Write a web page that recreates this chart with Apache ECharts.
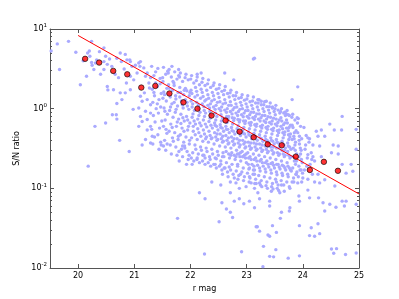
<!DOCTYPE html>
<html><head><meta charset="utf-8">
<script src="https://cdn.jsdelivr.net/npm/echarts@6/dist/echarts.min.js"></script>
<style>html,body{margin:0;padding:0;background:#fff}#c{width:399px;height:299px}</style>
</head><body><div id="c"></div>
<script>
// ---- data ----
const xTicks = [20, 21, 22, 23, 24, 25];
const yTicks = [0.01, 0.1, 1, 10];
const yTickExp = ['-2', '-1', '0', '1'];
const yMinorTicks = [0.02,0.03,0.04,0.05,0.06,0.07,0.08,0.09,0.2,0.3,0.4,0.5,0.6,0.7,0.8,0.9,2,3,4,5,6,7,8,9];
const binMag = [20.125,20.375,20.625,20.875,21.125,21.375,21.625,21.875,22.125,22.375,22.625,22.875,23.125,23.375,23.625,23.875,24.125,24.375,24.625];
const binSN = [4.22,3.79,2.98,2.70,1.84,1.93,1.55,1.20,1.00,0.82,0.71,0.515,0.437,0.357,0.347,0.250,0.170,0.215,0.166];
const fitMag = [20, 25];
const fitSN = [8.3, 0.085];
const starsLeft = [[19.52,5.3],[19.63,6.5],[19.83,7.0],[19.67,3.1],[19.96,5.1],[20.04,2.0],[20.15,2.55],[20.09,4.0],[20.24,7.0],[20.2,5.3],[20.33,4.1],[20.25,3.5],[20.4,2.7],[20.3,0.6],[20.49,0.66],[20.52,1.9],[20.53,1.72],[20.61,0.84],[20.68,0.84],[20.69,0.74],[20.74,0.4],[20.46,5.8],[20.18,0.19],[20.91,0.29],
[20.17,5.0],[20.21,4.55],[20.24,3.8],[20.31,3.75],[20.28,3.1],[20.38,5.2],[20.49,4.55],[20.46,3.9],[20.52,3.6],[20.46,3.1],[20.56,4.2],[20.6,3.4],[20.69,4.3],[20.75,5.0],[20.77,3.9],[20.66,2.7],[20.72,2.45],[20.84,4.8],[20.87,4.1],[20.93,3.9],[20.96,3.4],[20.82,3.15],[20.93,2.55],[20.99,2.3],[20.86,2.1],[21.05,2.8],[21.08,3.75],[21.11,3.9],[21.17,3.25],[21.2,2.55],[21.23,2.8],[21.29,2.45],[21.26,2.1],[21.27,1.82],[21.18,1.58],[21.11,1.43],[21.14,1.24],[21.08,1.02],[21.23,1.3],[21.29,1.12],[21.2,0.93],[21.29,0.88],[21.23,0.73],[21.14,0.69],[21.29,0.6],[21.23,0.54],[21.32,0.45],[20.69,1.16],[20.78,1.3],[20.84,1.58],[20.93,1.73],[20.98,0.98],[20.63,1.73],[20.75,1.58],[21.08,0.6],[21.11,0.8],[21.29,0.37],[21.2,0.41],[21.14,0.35],[20.92,4.1],[21.02,3.5],[21.1,3.4]];
const starsBand = [
[21.31,3.4],[21.35,2.6],[21.38,2.1],[21.32,1.75],[21.36,1.45],[21.33,1.2],[21.39,1.0],[21.34,0.82],[21.37,0.68],[21.31,0.55],[21.36,0.44],[21.33,0.36],[21.38,2.9],[21.35,1.6],
[21.42,3.2],[21.46,2.4],[21.41,1.9],[21.48,1.55],[21.44,1.3],[21.47,1.05],[21.43,0.88],[21.49,0.7],[21.45,0.57],[21.42,0.47],[21.47,0.38],[21.44,0.31],[21.46,2.05],[21.41,1.15],
[21.52,3.3],[21.56,2.7],[21.51,2.2],[21.58,1.8],[21.54,1.5],[21.57,1.25],[21.53,1.02],[21.59,0.85],[21.55,0.72],[21.52,0.6],[21.58,0.49],[21.54,0.4],[21.56,0.3],[21.51,1.35],
[21.62,3.1],[21.66,2.5],[21.61,2.0],[21.68,1.7],[21.64,1.4],[21.67,1.15],[21.63,0.95],[21.69,0.78],[21.65,0.64],[21.62,0.52],[21.68,0.43],[21.64,0.35],[21.66,0.27],[21.61,1.55],[21.69,2.2],
[21.72,2.9],[21.76,2.35],[21.71,1.95],[21.78,1.6],[21.74,1.32],[21.77,1.08],[21.73,0.9],[21.79,0.74],[21.75,0.6],[21.72,0.5],[21.78,0.41],[21.74,0.33],[21.76,0.26],[21.71,1.2],[21.79,2.6],
[21.82,2.8],[21.86,2.2],[21.81,1.85],[21.88,1.5],[21.84,1.25],[21.87,1.02],[21.83,0.85],[21.89,0.7],[21.85,0.57],[21.82,0.47],[21.88,0.38],[21.84,0.31],[21.86,0.25],[21.81,1.4],[21.89,1.7],[21.83,0.65],
[21.92,2.7],[21.96,2.3],[21.91,1.8],[21.98,1.45],[21.94,1.2],[21.97,0.98],[21.93,0.8],[21.99,0.66],[21.95,0.54],[21.92,0.44],[21.98,0.36],[21.94,0.29],[21.96,0.23],[21.91,1.3],[21.99,1.6],[21.95,0.72],
[22.02,2.6],[22.06,2.1],[22.01,1.7],[22.08,1.4],[22.04,1.15],[22.07,0.95],[22.03,0.78],[22.09,0.64],[22.05,0.52],[22.02,0.43],[22.08,0.35],[22.04,0.28],[22.06,0.22],[22.01,1.25],[22.09,1.85],[22.05,0.6],[22.03,1.05],
[22.12,2.5],[22.16,2.0],[22.11,1.65],[22.18,1.35],[22.14,1.1],[22.17,0.9],[22.13,0.74],[22.19,0.61],[22.15,0.5],[22.12,0.41],[22.18,0.33],[22.14,0.27],[22.16,0.21],[22.11,1.2],[22.19,1.75],[22.15,0.82],[22.13,0.56],
[22.22,2.4],[22.26,1.95],[22.21,1.6],[22.28,1.3],[22.24,1.06],[22.27,0.88],[22.23,0.72],[22.29,0.59],[22.25,0.48],[22.22,0.39],[22.28,0.32],[22.24,0.26],[22.26,0.2],[22.21,1.15],[22.29,1.7],[22.25,0.8],[22.23,0.54],[22.27,0.42],
[22.32,2.3],[22.36,1.85],[22.31,1.5],[22.38,1.25],[22.34,1.02],[22.37,0.84],[22.33,0.69],[22.39,0.57],[22.35,0.46],[22.32,0.38],[22.38,0.31],[22.34,0.25],[22.36,0.19],[22.31,1.1],[22.39,1.6],[22.35,0.76],[22.33,0.52],[22.37,0.42],
[22.42,2.1],[22.46,1.75],[22.41,1.45],[22.48,1.2],[22.44,0.98],[22.47,0.8],[22.43,0.66],[22.49,0.54],[22.45,0.44],[22.42,0.36],[22.48,0.29],[22.44,0.24],[22.46,0.18],[22.41,1.05],[22.49,1.55],[22.45,0.72],[22.43,0.5],[22.47,0.4],[22.44,0.62],
[22.52,2.0],[22.56,1.65],[22.51,1.38],[22.58,1.15],[22.54,0.94],[22.57,0.77],[22.53,0.63],[22.59,0.52],[22.55,0.42],[22.52,0.34],[22.58,0.28],[22.54,0.22],[22.56,0.17],[22.51,1.0],[22.59,1.5],[22.55,0.7],[22.53,0.48],[22.57,0.38],[22.54,0.58],
[22.62,1.9],[22.66,1.55],[22.61,1.3],[22.68,1.1],[22.64,0.9],[22.67,0.74],[22.63,0.6],[22.69,0.5],[22.65,0.4],[22.62,0.33],[22.68,0.27],[22.64,0.21],[22.66,0.16],[22.61,0.96],[22.69,1.4],[22.65,0.67],[22.63,0.46],[22.67,0.36],[22.64,0.55],[22.68,0.8],
[22.72,1.7],[22.76,1.45],[22.71,1.22],[22.78,1.03],[22.74,0.86],[22.77,0.71],[22.73,0.58],[22.79,0.48],[22.75,0.39],[22.72,0.32],[22.78,0.26],[22.74,0.2],[22.76,0.15],[22.71,0.92],[22.79,1.3],[22.75,0.64],[22.73,0.44],[22.77,0.35],[22.74,0.53],[22.78,0.76],
[22.82,1.6],[22.86,1.35],[22.81,1.15],[22.88,0.98],[22.84,0.82],[22.87,0.68],[22.83,0.56],[22.89,0.46],[22.85,0.37],[22.82,0.3],[22.88,0.25],[22.84,0.19],[22.86,0.145],[22.81,0.88],[22.89,1.2],[22.85,0.61],[22.83,0.42],[22.87,0.33],[22.84,0.51],[22.88,0.72],[22.86,0.27],
[22.92,1.5],[22.96,1.28],[22.91,1.1],[22.98,0.94],[22.94,0.79],[22.97,0.65],[22.93,0.53],[22.99,0.44],[22.95,0.36],[22.92,0.29],[22.98,0.24],[22.94,0.18],[22.96,0.14],[22.91,0.84],[22.99,1.15],[22.95,0.58],[22.93,0.4],[22.97,0.32],[22.94,0.49],[22.98,0.7],[22.96,0.26],
[23.02,1.45],[23.06,1.22],[23.01,1.05],[23.08,0.9],[23.04,0.76],[23.07,0.62],[23.03,0.51],[23.09,0.42],[23.05,0.34],[23.02,0.28],[23.08,0.23],[23.04,0.175],[23.06,0.135],[23.01,0.8],[23.09,1.1],[23.05,0.56],[23.03,0.38],[23.07,0.31],[23.04,0.47],[23.08,0.67],[23.06,0.25],[23.03,0.2],
[23.12,1.4],[23.16,1.18],[23.11,1.0],[23.18,0.86],[23.14,0.73],[23.17,0.6],[23.13,0.49],[23.19,0.4],[23.15,0.33],[23.12,0.27],[23.18,0.22],[23.14,0.17],[23.16,0.13],[23.11,0.77],[23.19,1.05],[23.15,0.54],[23.13,0.37],[23.17,0.3],[23.14,0.45],[23.18,0.64],[23.16,0.24],[23.13,0.19],[23.17,0.115],
[23.22,1.3],[23.26,1.12],[23.21,0.96],[23.28,0.82],[23.24,0.7],[23.27,0.57],[23.23,0.47],[23.29,0.39],[23.25,0.32],[23.22,0.26],[23.28,0.21],[23.24,0.165],[23.26,0.125],[23.21,0.74],[23.29,1.0],[23.25,0.52],[23.23,0.36],[23.27,0.29],[23.24,0.43],[23.28,0.62],[23.26,0.23],[23.23,0.18],[23.27,0.105],
[23.32,1.22],[23.36,1.06],[23.31,0.92],[23.38,0.79],[23.34,0.67],[23.37,0.55],[23.33,0.45],[23.39,0.37],[23.35,0.31],[23.32,0.25],[23.38,0.2],[23.34,0.16],[23.36,0.12],[23.31,0.7],[23.39,0.96],[23.35,0.5],[23.33,0.34],[23.37,0.28],[23.34,0.41],[23.38,0.6],[23.36,0.22],[23.33,0.175],[23.37,0.1],
[23.42,1.18],[23.46,1.02],[23.41,0.88],[23.48,0.76],[23.44,0.64],[23.47,0.53],[23.43,0.43],[23.49,0.36],[23.45,0.3],[23.42,0.24],[23.48,0.195],[23.44,0.155],[23.46,0.115],[23.41,0.67],[23.49,0.92],[23.45,0.48],[23.43,0.33],[23.47,0.27],[23.44,0.4],[23.48,0.57],[23.46,0.21],[23.43,0.17],[23.47,0.098],
[23.52,1.1],[23.56,0.96],[23.51,0.84],[23.58,0.72],[23.54,0.61],[23.57,0.5],[23.53,0.41],[23.59,0.34],[23.55,0.28],[23.52,0.23],[23.58,0.185],[23.54,0.148],[23.56,0.11],[23.51,0.64],[23.59,0.88],[23.55,0.46],[23.53,0.32],[23.57,0.26],[23.54,0.38],[23.58,0.54],[23.56,0.2],[23.53,0.16],[23.57,0.094],
[23.62,1.0],[23.66,0.88],[23.61,0.77],[23.68,0.66],[23.64,0.56],[23.67,0.47],[23.63,0.39],[23.69,0.32],[23.65,0.27],[23.62,0.22],[23.68,0.18],[23.64,0.145],[23.66,0.11],[23.61,0.6],[23.69,0.82],[23.65,0.43],[23.63,0.3],[23.67,0.25],[23.64,0.36],[23.68,0.51],[23.66,0.19],[23.63,0.155],[23.67,0.092],
[23.72,0.95],[23.76,0.82],[23.71,0.72],[23.78,0.62],[23.74,0.53],[23.77,0.44],[23.73,0.37],[23.79,0.31],[23.75,0.26],[23.72,0.21],[23.78,0.17],[23.74,0.14],[23.76,0.105],[23.71,0.57],[23.75,0.41],[23.73,0.29],[23.77,0.24],[23.74,0.34],[23.78,0.48],[23.76,0.18],[23.73,0.15],
[23.82,0.85],[23.86,0.72],[23.81,0.62],[23.88,0.53],[23.84,0.45],[23.87,0.38],[23.83,0.32],[23.89,0.27],[23.85,0.22],[23.82,0.18],[23.88,0.15],[23.84,0.12],[23.86,0.35],[23.83,0.25],[23.87,0.2],[23.85,0.5],[23.81,0.41],
[23.92,0.75],[23.96,0.6],[23.91,0.5],[23.98,0.42],[23.94,0.36],[23.97,0.3],[23.93,0.25],[23.99,0.21],[23.95,0.17],[23.92,0.14],[23.98,0.12],[23.94,0.45],[23.96,0.27],[23.93,0.19],
[24.02,0.58],[24.06,0.46],[24.11,0.38],[24.04,0.31],[24.15,0.28],[24.08,0.24],[24.13,0.2],[24.03,0.17],[24.17,0.15],[24.09,0.13],[24.05,0.35],[24.12,0.42],[24.16,0.23],[24.07,0.19]];
const starsFill = [
[21.505,2.45],[21.525,1.62],[21.545,0.93],[21.565,0.55],[21.585,0.36],[21.595,2.95],
[21.605,2.8],[21.625,1.8],[21.645,1.05],[21.675,0.58],[21.695,0.39],
[21.705,2.1],[21.735,1.45],[21.745,0.98],[21.765,0.68],[21.785,0.45],[21.795,0.29],
[21.805,2.5],[21.825,1.6],[21.855,1.12],[21.865,0.77],[21.885,0.52],[21.895,0.34],
[21.905,2.45],[21.935,1.68],[21.945,1.08],[21.965,0.6],[21.985,0.4],[21.975,0.26],
[22.005,2.35],[22.025,1.55],[22.045,0.86],[22.065,0.7],[22.085,0.47],[22.095,0.31],[22.015,0.24],
[22.105,2.25],[22.125,1.48],[22.145,1.0],[22.165,0.66],[22.185,0.45],[22.195,0.3],[22.115,0.23],
[22.205,2.15],[22.225,1.42],[22.245,0.95],[22.265,0.64],[22.285,0.44],[22.295,0.29],[22.215,0.22],[22.255,1.25],
[22.305,2.05],[22.325,1.35],[22.345,0.92],[22.365,0.62],[22.385,0.43],[22.395,0.27],[22.315,0.21],[22.355,1.15],
[22.405,1.95],[22.425,1.3],[22.445,0.88],[22.465,0.6],[22.485,0.41],[22.495,0.26],[22.415,0.2],[22.455,1.1],[22.475,0.48],
[22.505,1.8],[22.525,1.22],[22.545,0.84],[22.565,0.57],[22.585,0.39],[22.595,0.25],[22.515,0.19],[22.555,1.05],[22.575,0.45],
[22.605,1.7],[22.625,1.18],[22.645,0.8],[22.665,0.55],[22.685,0.37],[22.695,0.24],[22.615,0.18],[22.655,1.0],[22.675,0.43],[22.635,0.29],
[22.705,1.58],[22.725,1.1],[22.745,0.77],[22.765,0.52],[22.785,0.36],[22.795,0.23],[22.715,0.17],[22.755,0.97],[22.775,0.42],[22.735,0.28],
[22.805,1.45],[22.825,1.05],[22.845,0.73],[22.865,0.5],[22.885,0.35],[22.895,0.22],[22.815,0.165],[22.855,0.92],[22.875,0.4],[22.835,0.27],[22.845,0.13],
[22.905,1.38],[22.925,1.0],[22.945,0.7],[22.965,0.48],[22.985,0.33],[22.995,0.21],[22.915,0.16],[22.955,0.88],[22.975,0.38],[22.935,0.25],[22.945,0.125],
[23.005,1.32],[23.025,0.95],[23.045,0.66],[23.065,0.46],[23.085,0.32],[23.095,0.2],[23.015,0.155],[23.055,0.84],[23.075,0.37],[23.035,0.24],[23.045,0.12],
[23.105,1.25],[23.125,0.9],[23.145,0.63],[23.165,0.44],[23.185,0.31],[23.195,0.195],[23.115,0.15],[23.155,0.8],[23.175,0.36],[23.135,0.23],[23.145,0.115],
[23.205,1.18],[23.225,0.86],[23.245,0.6],[23.265,0.42],[23.285,0.3],[23.295,0.19],[23.215,0.145],[23.255,0.77],[23.275,0.35],[23.235,0.22],[23.245,0.11],
[23.305,1.12],[23.325,0.82],[23.345,0.58],[23.365,0.4],[23.385,0.29],[23.395,0.185],[23.315,0.14],[23.355,0.74],[23.375,0.34],[23.335,0.21],[23.345,0.108],
[23.405,1.06],[23.425,0.78],[23.445,0.55],[23.465,0.39],[23.485,0.28],[23.495,0.18],[23.415,0.135],[23.455,0.7],[23.475,0.33],[23.435,0.205],[23.445,0.105],
[23.505,1.0],[23.525,0.74],[23.545,0.53],[23.565,0.37],[23.585,0.27],[23.595,0.175],[23.515,0.13],[23.555,0.67],[23.575,0.32],[23.535,0.2],[23.545,0.1],
[23.605,0.92],[23.625,0.7],[23.645,0.5],[23.665,0.35],[23.685,0.26],[23.695,0.17],[23.615,0.125],[23.655,0.63],[23.675,0.3],[23.635,0.195],
[23.705,0.86],[23.725,0.66],[23.745,0.47],[23.765,0.33],[23.785,0.25],[23.795,0.165],[23.715,0.12],[23.755,0.58],[23.735,0.19],
[23.805,0.78],[23.825,0.58],[23.845,0.42],[23.865,0.3],[23.885,0.22],[23.895,0.16],[23.835,0.135],
[23.905,0.66],[23.935,0.4],[23.955,0.32],[23.975,0.23],[23.995,0.155]];
const starsUpper = [[21.67,3.4],[21.79,3.1],[22.12,2.7],[22.19,2.8],[22.61,2.8],[22.77,2.3],[23.12,4.2],[23.14,4.3],[23.91,1.88],[23.81,1.3],[23.2,1.3],[23.26,1.24],[23.35,1.24],[23.46,1.05],[23.68,0.9],[23.74,0.84],[23.9,0.77],
[24.09,0.43],[24.24,0.52],[24.33,0.54],[24.27,0.45],[24.39,0.45],[24.18,0.35],[24.3,0.34],[24.48,0.64],[24.56,0.54],[24.69,0.54],[24.7,0.8],[24.95,0.55],[24.54,0.35],[24.63,0.34],[21.48,0.35],[21.52,0.34],[21.86,0.34],[21.9,0.32]];
const starsLower = [[21.8,0.22],[21.93,0.2],[22.03,0.2],[22.12,0.24],[22.22,0.26],[22.26,0.24],[22.35,0.23],[22.46,0.235],[22.44,0.2],[22.54,0.2],[22.57,0.25],[22.6,0.18],[22.69,0.185],[22.72,0.26],[22.81,0.25],[22.84,0.2],[22.89,0.28],[22.93,0.25],[22.99,0.27],[23.05,0.18],[23.12,0.17],
[22.57,0.15],[22.67,0.14],[22.78,0.135],[22.89,0.15],[23.05,0.14],[23.14,0.15],[22.38,0.12],[22.54,0.11],[22.71,0.12],[22.81,0.117],[22.87,0.1],[22.99,0.105],[23.08,0.117],[23.14,0.1],
[22.16,0.088],[22.26,0.074],[22.71,0.088],[22.78,0.069],[22.87,0.074],[22.95,0.064],[23.05,0.069],[23.14,0.057],[22.56,0.066],[22.64,0.055],[22.71,0.05],[22.75,0.043],[21.77,0.042],[22.51,0.038],[23.17,0.033],[22.25,0.015],[22.91,0.016],[23.29,0.0104],[23.3,0.0187],
[23.23,0.117],[23.2,0.088],[23.23,0.074],[23.41,0.069],[23.41,0.06],[23.62,0.05],[23.6,0.042],[23.77,0.057],[23.76,0.052],[23.93,0.08],[23.94,0.069],[23.94,0.034],[23.19,0.033],[23.23,0.029],[23.38,0.026],[23.46,0.034],[23.41,0.025],[23.53,0.028],[23.52,0.017],[23.41,0.014],[23.48,0.0138],[23.74,0.0133],[23.94,0.0142],
[24.09,0.095],[24.15,0.032],[24.12,0.0255],[24.21,0.025],[24.3,0.027],[24.27,0.036],[24.28,0.076],[24.36,0.066],[24.39,0.052],[24.48,0.063],[24.51,0.0173],[24.6,0.0175],[24.55,0.0153],[24.7,0.069],[24.57,0.107],[24.77,0.069],[24.74,0.06],[24.59,0.058],[24.76,0.0148],[24.95,0.0154],[24.95,0.063],
[24.89,0.164],[24.86,0.2],[24.7,0.2],[24.77,0.155],[24.51,0.28],[24.63,0.27],[24.95,0.31],[24.27,0.15],[24.3,0.117],[24.39,0.128],[24.21,0.22],[24.33,0.25],[24.18,0.25],[24.09,0.265],[23.97,0.17],[24.0,0.135],[23.88,0.15],[23.91,0.117],[23.81,0.12],[23.77,0.1],[23.62,0.11],[23.53,0.12],[23.59,0.088],[23.44,0.092],[24.21,0.12],[24.12,0.076]];

// ---- chart ----
const stars = starsLeft.concat(starsBand, starsFill, starsUpper, starsLower);
const binned = binMag.map((m, i) => [m, binSN[i]]);
const fit = fitMag.map((m, i) => [m, fitSN[i]]);
const FONT = 'DejaVu Sans';
const AX = '#555';
const yRich = { b: { fontSize: 8, fontFamily: FONT, color: '#000' }, s: { fontSize: 5.5, fontFamily: FONT, color: '#000', padding: [0, 0, 6, 0] } };

const chart = echarts.init(document.getElementById('c'), null, { renderer: 'canvas' });
const logAxis = (extra) => Object.assign({
  type: 'log', logBase: 10, min: 0.01, max: 10, gridIndex: 0,
  splitLine: { show: false }, minorTick: { show: false }, minorSplitLine: { show: false },
  axisLine: { show: false }, axisLabel: { show: false }
}, extra);
chart.setOption({
  animation: false,
  backgroundColor: '#fff',
  grid: { left: 50, right: 40, top: 29, bottom: 31, containLabel: false },
  xAxis: [
    { type: 'value', min: 19.5, max: 25, position: 'bottom',
      name: 'r mag', nameLocation: 'middle', nameGap: 16,
      nameTextStyle: { fontFamily: FONT, fontSize: 8, color: '#000' },
      axisLine: { show: true, onZero: false, lineStyle: { color: AX, width: 1 } },
      axisTick: { show: true, inside: true, length: 4, customValues: xTicks, lineStyle: { color: AX } },
      axisLabel: { show: true, customValues: xTicks, margin: 4, fontFamily: FONT, fontSize: 8, color: '#000' },
      splitLine: { show: false } },
    { type: 'value', min: 19.5, max: 25, position: 'top',
      axisLine: { show: true, onZero: false, lineStyle: { color: AX, width: 1 } },
      axisTick: { show: true, inside: true, length: 4, customValues: xTicks, lineStyle: { color: AX } },
      axisLabel: { show: false }, splitLine: { show: false } }
  ],
  yAxis: [
    logAxis({ position: 'left', name: 'S/N ratio', nameLocation: 'middle', nameGap: 29,
      nameTextStyle: { fontFamily: FONT, fontSize: 8, color: '#000' },
      axisLine: { show: true, onZero: false, lineStyle: { color: AX, width: 1 } },
      axisTick: { show: true, inside: true, length: 4, customValues: yTicks, lineStyle: { color: AX } },
      axisLabel: { show: true, customValues: yTicks, margin: 3, rich: yRich,
        formatter: (v) => { const i = yTicks.findIndex(t => Math.abs(Math.log10(t) - Math.log10(v)) < 1e-6); return '{b|10}{s|' + (i >= 0 ? yTickExp[i] : '') + '}'; } } }),
    logAxis({ position: 'left',
      axisTick: { show: true, inside: true, length: 2, customValues: yMinorTicks, lineStyle: { color: AX } } }),
    logAxis({ position: 'right',
      axisLine: { show: true, onZero: false, lineStyle: { color: AX, width: 1 } },
      axisTick: { show: true, inside: true, length: 4, customValues: yTicks, lineStyle: { color: AX } } }),
    logAxis({ position: 'right',
      axisTick: { show: true, inside: true, length: 2, customValues: yMinorTicks, lineStyle: { color: AX } } })
  ],
  series: [
    { type: 'scatter', xAxisIndex: 0, yAxisIndex: 0, data: stars, symbol: 'circle', symbolSize: 3.4,
      itemStyle: { color: '#aaaaff', opacity: 1 }, silent: true, clip: true, z: 2 },
    { type: 'line', xAxisIndex: 0, yAxisIndex: 0, data: fit, showSymbol: false, symbol: 'none',
      lineStyle: { color: '#ff0000', width: 1 }, silent: true, z: 3 },
    { type: 'scatter', xAxisIndex: 0, yAxisIndex: 0, data: binned, symbol: 'circle', symbolSize: 5.5,
      itemStyle: { color: '#ff0000', borderColor: '#000', borderWidth: 0.8 }, silent: true, z: 4 }
  ]
});
</script></body></html>
